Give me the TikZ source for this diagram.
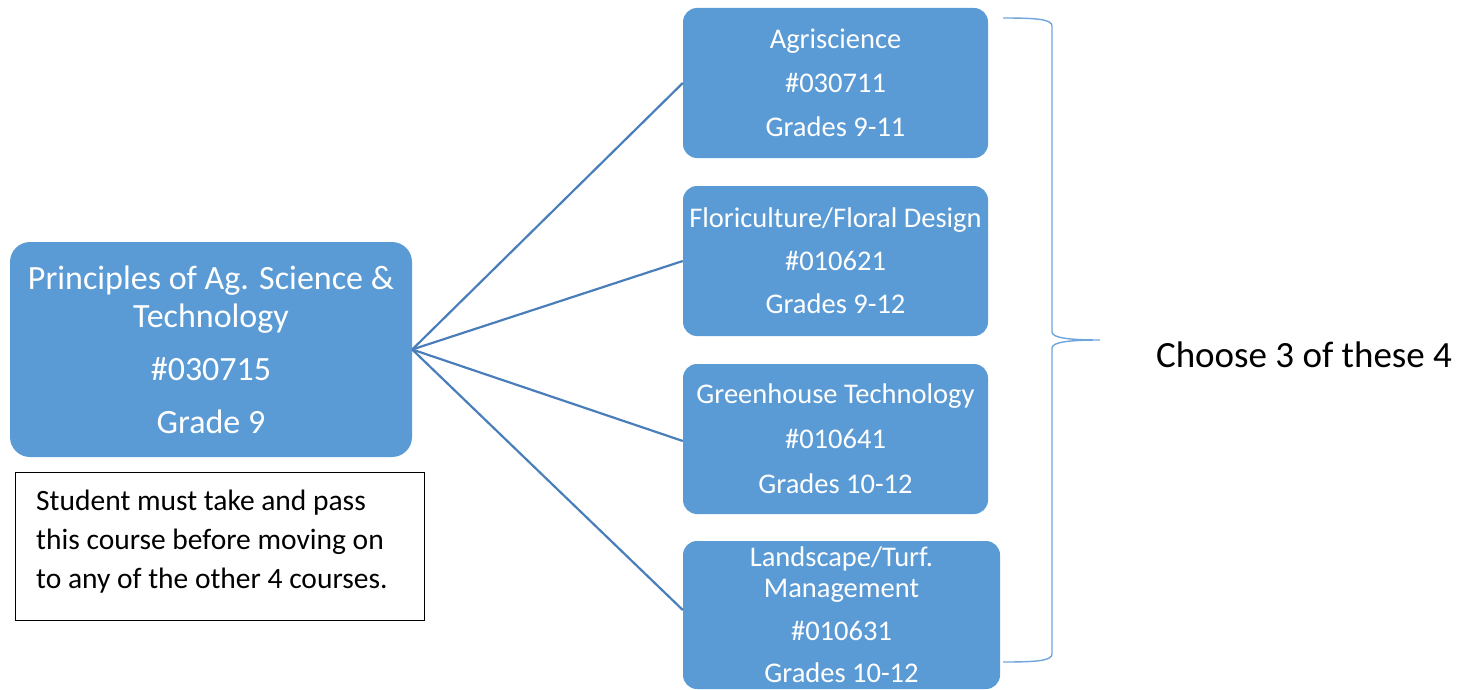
\documentclass[tikz,border=0pt]{standalone}
\usepackage{fontspec}
\setmainfont{Carlito}
\definecolor{boxblue}{RGB}{91,155,213}
\definecolor{linkblue}{RGB}{74,126,187}
\definecolor{bracecol}{RGB}{110,165,220}
\begin{document}
\begin{tikzpicture}[x=1pt,y=-1pt,
  course/.style={fill=boxblue, draw=none, rounded corners=14pt, text=white, align=center, inner sep=0pt, minimum width=305pt, minimum height=150pt},
  link/.style={draw=linkblue, line width=2.2pt},
  brace/.style={draw=bracecol, line width=1.4pt}]
\useasboundingbox (0,0) rectangle (1466,690);
\node[course, rounded corners=20pt, minimum width=402pt, minimum height=215pt, font=\fontsize{34}{38}\selectfont] (main) at (211,349.5)
  {Principles of Ag. Science \&\\Technology\\[15pt]\#030715\\[15pt]Grade 9};
\node[draw=black, line width=0.8pt, minimum width=409pt, minimum height=148pt, inner sep=0pt] (note) at (219.5,546) {};
\node[anchor=north west, align=left, inner sep=0pt, font=\fontsize{29.5}{39}\selectfont] (notetext) at (36,490)
  {Student must take and pass\\this course before moving on\\to any of the other 4 courses.};
\node[course, font=\fontsize{28.5}{44}\selectfont] (agri) at (835.5,83) {Agriscience\\\#030711\\Grades 9-11};
\node[course, font=\fontsize{28.5}{43}\selectfont] (flor) at (835.5,261) {Floriculture/Floral Design\\\#010621\\Grades 9-12};
\node[course, font=\fontsize{28.5}{45}\selectfont] (green) at (835.5,439) {Greenhouse Technology\\\#010641\\Grades 10-12};
\node[course, minimum width=317pt, minimum height=148pt, font=\fontsize{28.5}{31}\selectfont] (land) at (841.5,615) {Landscape/Turf.\\Management\\[12pt]\#010631\\[11pt]Grades 10-12};
\draw[link] (main.east) -- (agri.west);
\draw[link] (main.east) -- (flor.west);
\draw[link] (main.east) -- ([yshift=-2pt]green.west);
\draw[link] (main.east) -- ([yshift=5pt]land.west);
\coordinate (bt) at (1003,18);
\coordinate (bm) at (1100,340);
\coordinate (bb) at (1003,662);
\draw[brace] (bt) .. controls (1035,18) and (1052,19) .. (1052,26) -- (1052,332)
  .. controls (1052,338) and (1070,340) .. (bm)
  .. controls (1070,340) and (1052,342) .. (1052,348) -- (1052,654)
  .. controls (1052,661) and (1035,662) .. (bb);
\node[font=\fontsize{37}{44}\selectfont, anchor=center] (choose) at (1304,355) {Choose 3 of these 4};
\end{tikzpicture}
\end{document}
